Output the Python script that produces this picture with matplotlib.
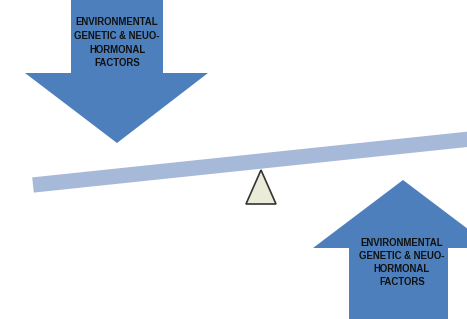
import matplotlib
matplotlib.use("Agg")
import matplotlib.pyplot as plt
from matplotlib.patches import Polygon

# diagram geometry, in pixel coordinates of the picture (y downwards)
label_lines = ["ENVIRONMENTAL", "GENETIC & NEUO-", "HORMONAL", "FACTORS"]

down_arrow = [(71, 0), (163, 0), (163, 73), (208, 73), (117, 143), (25, 73), (71, 73)]
up_arrow = [(349, 319), (448, 319), (448, 248), (493, 248), (403, 180), (313, 248), (349, 248)]
beam_ends = [(33, 185), (480, 138)]
fulcrum = [(261, 170), (276, 204), (246, 204)]

top_text_y = [22, 36, 50, 63]
top_text_x = 117
bottom_text_y = [243, 256, 269, 282]
bottom_text_x = 402

arrow_color = "#4c7fbc"
beam_color = "#a7b9d8"

fig = plt.figure(figsize=(4.67, 3.19), dpi=100)
ax = fig.add_axes([0, 0, 1, 1])
ax.set_xlim(0, 467)
ax.set_ylim(319, 0)
ax.axis("off")

ax.add_patch(Polygon(down_arrow, closed=True, facecolor=arrow_color, edgecolor="none"))
ax.add_patch(Polygon(up_arrow, closed=True, facecolor=arrow_color, edgecolor="none"))

bx, by = zip(*beam_ends)
ax.plot(bx, by, color=beam_color, linewidth=11, solid_capstyle="butt")

ax.add_patch(Polygon(fulcrum, closed=True, facecolor="#eaecd9", edgecolor="#333333",
                     linewidth=1.2, joinstyle="miter"))

for line, y in zip(label_lines, top_text_y):
    ax.text(top_text_x, y, line, ha="center", va="center", fontsize=6.9,
            fontweight="bold", family="Liberation Sans", color="#111111")
for line, y in zip(label_lines, bottom_text_y):
    ax.text(bottom_text_x, y, line, ha="center", va="center", fontsize=6.9,
            fontweight="bold", family="Liberation Sans", color="#111111")

fig.savefig("out.png", dpi=100)
